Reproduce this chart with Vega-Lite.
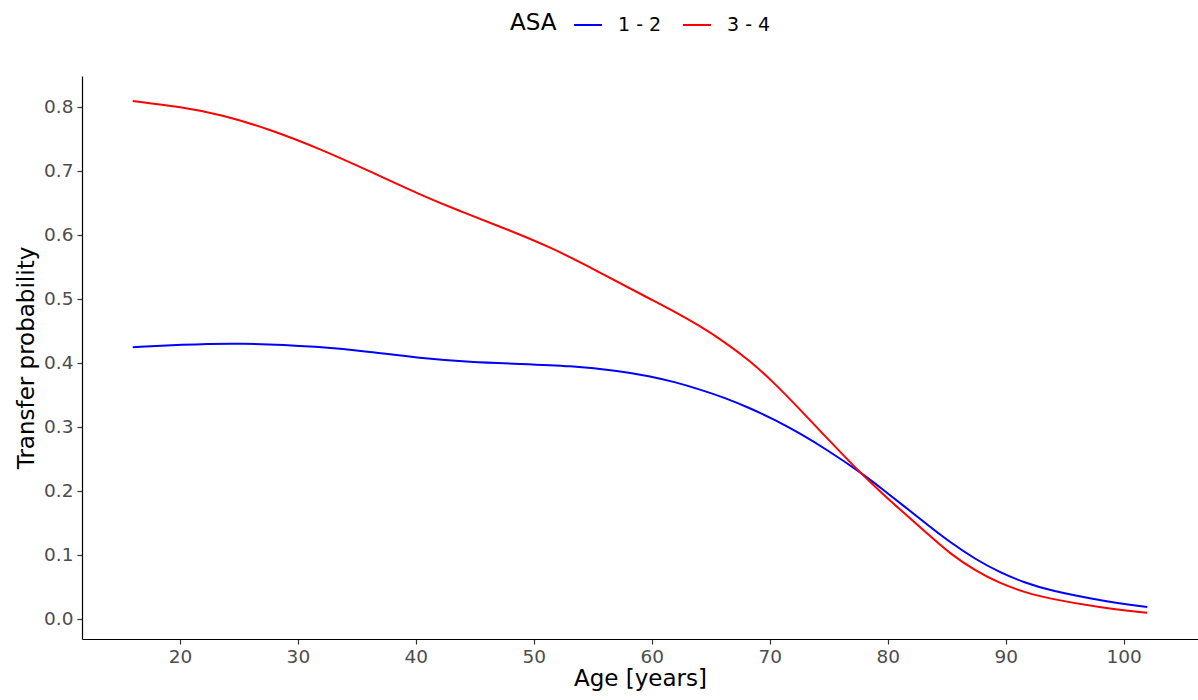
{
  "$schema": "https://vega.github.io/schema/vega-lite/v6.json",
  "width": 1116,
  "height": 563,
  "autosize": {"type": "none"},
  "padding": {"left": 82, "top": 76, "right": 0, "bottom": 61},
  "background": "white",
  "config": {
    "font": "DejaVu Sans",
    "view": {"stroke": null},
    "axis": {
      "grid": false,
      "domainColor": "#000000",
      "domainWidth": 1.2,
      "tickColor": "#333333",
      "tickWidth": 1.2,
      "tickSize": 5,
      "labelColor": "#4D4D4D",
      "labelFontSize": 18.5,
      "labelFont": "DejaVu Sans",
      "titleFont": "DejaVu Sans",
      "titleFontSize": 23,
      "titleFontWeight": "normal",
      "titleColor": "#000000"
    }
  },
  "data": {
    "values": [
      {"age": 16.0, "p": 0.424, "ASA": "1 - 2"},
      {"age": 20.0, "p": 0.428, "ASA": "1 - 2"},
      {"age": 25.1, "p": 0.431, "ASA": "1 - 2"},
      {"age": 31.9, "p": 0.425, "ASA": "1 - 2"},
      {"age": 36.1, "p": 0.417, "ASA": "1 - 2"},
      {"age": 40.3, "p": 0.407, "ASA": "1 - 2"},
      {"age": 44.6, "p": 0.401, "ASA": "1 - 2"},
      {"age": 48.8, "p": 0.398, "ASA": "1 - 2"},
      {"age": 53.1, "p": 0.395, "ASA": "1 - 2"},
      {"age": 57.3, "p": 0.387, "ASA": "1 - 2"},
      {"age": 59.8, "p": 0.379, "ASA": "1 - 2"},
      {"age": 61.9, "p": 0.370, "ASA": "1 - 2"},
      {"age": 64.1, "p": 0.358, "ASA": "1 - 2"},
      {"age": 66.2, "p": 0.345, "ASA": "1 - 2"},
      {"age": 68.3, "p": 0.329, "ASA": "1 - 2"},
      {"age": 70.4, "p": 0.311, "ASA": "1 - 2"},
      {"age": 72.5, "p": 0.290, "ASA": "1 - 2"},
      {"age": 75.0, "p": 0.262, "ASA": "1 - 2"},
      {"age": 77.5, "p": 0.231, "ASA": "1 - 2"},
      {"age": 79.5, "p": 0.203, "ASA": "1 - 2"},
      {"age": 81.5, "p": 0.174, "ASA": "1 - 2"},
      {"age": 83.4, "p": 0.146, "ASA": "1 - 2"},
      {"age": 85.3, "p": 0.119, "ASA": "1 - 2"},
      {"age": 87.4, "p": 0.093, "ASA": "1 - 2"},
      {"age": 89.5, "p": 0.072, "ASA": "1 - 2"},
      {"age": 91.6, "p": 0.056, "ASA": "1 - 2"},
      {"age": 93.7, "p": 0.044, "ASA": "1 - 2"},
      {"age": 98.0, "p": 0.028, "ASA": "1 - 2"},
      {"age": 102.0, "p": 0.018, "ASA": "1 - 2"},
      {"age": 16.0, "p": 0.809, "ASA": "3 - 4"},
      {"age": 20.0, "p": 0.800, "ASA": "3 - 4"},
      {"age": 23.4, "p": 0.788, "ASA": "3 - 4"},
      {"age": 27.6, "p": 0.765, "ASA": "3 - 4"},
      {"age": 31.9, "p": 0.734, "ASA": "3 - 4"},
      {"age": 36.1, "p": 0.699, "ASA": "3 - 4"},
      {"age": 40.3, "p": 0.663, "ASA": "3 - 4"},
      {"age": 43.7, "p": 0.637, "ASA": "3 - 4"},
      {"age": 47.1, "p": 0.613, "ASA": "3 - 4"},
      {"age": 51.4, "p": 0.581, "ASA": "3 - 4"},
      {"age": 55.6, "p": 0.541, "ASA": "3 - 4"},
      {"age": 59.8, "p": 0.500, "ASA": "3 - 4"},
      {"age": 62.0, "p": 0.479, "ASA": "3 - 4"},
      {"age": 64.1, "p": 0.457, "ASA": "3 - 4"},
      {"age": 66.2, "p": 0.432, "ASA": "3 - 4"},
      {"age": 68.3, "p": 0.403, "ASA": "3 - 4"},
      {"age": 70.4, "p": 0.368, "ASA": "3 - 4"},
      {"age": 72.5, "p": 0.328, "ASA": "3 - 4"},
      {"age": 75.0, "p": 0.279, "ASA": "3 - 4"},
      {"age": 77.5, "p": 0.231, "ASA": "3 - 4"},
      {"age": 79.5, "p": 0.196, "ASA": "3 - 4"},
      {"age": 81.5, "p": 0.163, "ASA": "3 - 4"},
      {"age": 83.4, "p": 0.132, "ASA": "3 - 4"},
      {"age": 85.3, "p": 0.101, "ASA": "3 - 4"},
      {"age": 87.4, "p": 0.075, "ASA": "3 - 4"},
      {"age": 89.5, "p": 0.055, "ASA": "3 - 4"},
      {"age": 91.6, "p": 0.041, "ASA": "3 - 4"},
      {"age": 93.7, "p": 0.031, "ASA": "3 - 4"},
      {"age": 98.0, "p": 0.017, "ASA": "3 - 4"},
      {"age": 102.0, "p": 0.009, "ASA": "3 - 4"}
    ]
  },
  "mark": {"type": "line", "interpolate": "basis", "strokeWidth": 2},
  "encoding": {
    "x": {
      "field": "age",
      "type": "quantitative",
      "scale": {"domain": [11.7, 106.3], "nice": false, "zero": false},
      "axis": {
        "title": "Age [years]",
        "values": [20, 30, 40, 50, 60, 70, 80, 90, 100],
        "labelPadding": 3,
        "titlePadding": 2
      }
    },
    "y": {
      "field": "p",
      "type": "quantitative",
      "scale": {"domain": [-0.032, 0.848], "nice": false, "zero": false},
      "axis": {
        "title": "Transfer probability",
        "values": [0, 0.1, 0.2, 0.3, 0.4, 0.5, 0.6, 0.7, 0.8],
        "format": ".1f",
        "labelPadding": 4,
        "titlePadding": 5
      }
    },
    "color": {
      "field": "ASA",
      "type": "nominal",
      "scale": {"domain": ["1 - 2", "3 - 4"], "range": ["#0000FF", "#FF0000"]},
      "legend": {
        "title": "ASA",
        "orient": "none",
        "legendX": 428,
        "legendY": -66,
        "direction": "horizontal",
        "titleOrient": "left",
        "titleFontSize": 23,
        "titleFontWeight": "normal",
        "titleColor": "#000000",
        "titleBaseline": "middle",
        "titlePadding": 16,
        "labelFontSize": 19,
        "labelColor": "#000000",
        "labelOffset": 15,
        "symbolType": "stroke",
        "symbolSize": 784,
        "symbolStrokeWidth": 2,
        "columnPadding": 17
      }
    }
  }
}
